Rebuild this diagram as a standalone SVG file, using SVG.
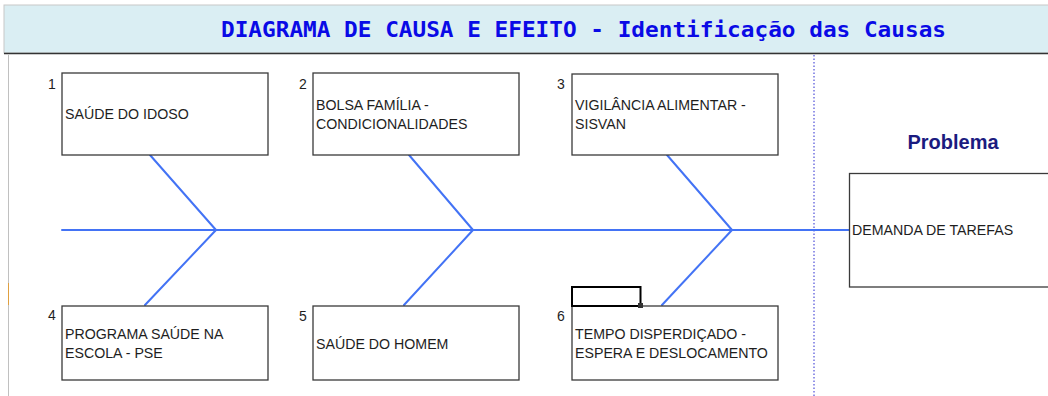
<svg xmlns="http://www.w3.org/2000/svg" width="1048" height="396" viewBox="0 0 1048 396">
  <style>
    .box { fill: #ffffff; stroke: #3a3a3a; stroke-width: 1.3; }
    .lbl { font-family: "Liberation Sans", Arial, sans-serif; font-size: 14.2px; fill: #1e1e1e; }
    .num { font-family: "Liberation Sans", Arial, sans-serif; font-size: 14px; fill: #1e1e1e; }
    .bone { stroke: #4373f5; stroke-width: 2; fill: none; stroke-linecap: round; }
  </style>
  <rect x="0" y="0" width="1048" height="396" fill="#ffffff"/>
  <g id="header">
    <rect x="4" y="5" width="1050" height="48" fill="#daeef3" stroke="#c8c8c8" stroke-width="1"/>
    <line x1="4" y1="53.5" x2="1048" y2="53.5" stroke="#333333" stroke-width="1.6"/>
    <text x="221" y="37" textLength="725" lengthAdjust="spacingAndGlyphs" font-family="DejaVu Sans Mono, Liberation Mono, monospace" font-weight="bold" font-size="21" fill="#0a0ae6">DIAGRAMA DE CAUSA E EFEITO - Identificação das Causas</text>
  </g>
  <g id="frame">
    <line x1="8.5" y1="55" x2="8.5" y2="396" stroke="#c0c0c0" stroke-width="1"/>
    <line x1="8.5" y1="283" x2="8.5" y2="305" stroke="#e0a040" stroke-width="1"/>
    <line x1="814" y1="55" x2="814" y2="396" stroke="#2a2ad0" stroke-width="1" stroke-dasharray="1.5,2"/>
  </g>
  <g id="connectors">
    <line class="bone" x1="62" y1="230" x2="849" y2="230"/>
    <line class="bone" x1="150" y1="155" x2="216" y2="230"/>
    <line class="bone" x1="145" y1="305" x2="216" y2="230"/>
    <line class="bone" x1="409" y1="155" x2="473" y2="230"/>
    <line class="bone" x1="404" y1="305" x2="473" y2="230"/>
    <line class="bone" x1="667" y1="155" x2="732" y2="230"/>
    <line class="bone" x1="662" y1="305" x2="732" y2="230"/>
  </g>
  <g id="cause1">
    <text class="num" x="48" y="89">1</text>
    <rect class="box" x="62" y="73" width="206" height="82"/>
    <text class="lbl" x="65" y="119">SAÚDE DO IDOSO</text>
  </g>
  <g id="cause2">
    <text class="num" x="299" y="89">2</text>
    <rect class="box" x="313" y="73" width="206" height="82"/>
    <text class="lbl" x="316" y="110">BOLSA FAMÍLIA -</text>
    <text class="lbl" x="316" y="129">CONDICIONALIDADES</text>
  </g>
  <g id="cause3">
    <text class="num" x="557" y="89">3</text>
    <rect class="box" x="572" y="74" width="206" height="81"/>
    <text class="lbl" x="575" y="110">VIGILÂNCIA ALIMENTAR -</text>
    <text class="lbl" x="575" y="129">SISVAN</text>
  </g>
  <g id="cause4">
    <text class="num" x="48" y="320">4</text>
    <rect class="box" x="62" y="306" width="206" height="74"/>
    <text class="lbl" x="65" y="339">PROGRAMA SAÚDE NA</text>
    <text class="lbl" x="65" y="358">ESCOLA - PSE</text>
  </g>
  <g id="cause5">
    <text class="num" x="299" y="321">5</text>
    <rect class="box" x="313" y="306" width="206" height="74"/>
    <text class="lbl" x="316" y="349">SAÚDE DO HOMEM</text>
  </g>
  <g id="cause6">
    <text class="num" x="557" y="321">6</text>
    <rect class="box" x="572" y="306" width="206" height="74"/>
    <text class="lbl" x="575" y="339">TEMPO DISPERDIÇADO -</text>
    <text class="lbl" x="575" y="358">ESPERA E DESLOCAMENTO</text>
  </g>
  <g id="selection">
    <rect x="572" y="287" width="68.5" height="19" fill="none" stroke="#000000" stroke-width="2"/>
    <rect x="638" y="303" width="5" height="5" fill="#333333"/>
  </g>
  <g id="problem">
    <text x="953" y="149" text-anchor="middle" font-family="Liberation Sans, Arial, sans-serif" font-weight="bold" font-size="20" fill="#1b1b80">Problema</text>
    <rect class="box" x="849.5" y="173.5" width="210" height="113.5" stroke="#555555"/>
    <text class="lbl" x="852" y="235">DEMANDA DE TAREFAS</text>
  </g>
</svg>
